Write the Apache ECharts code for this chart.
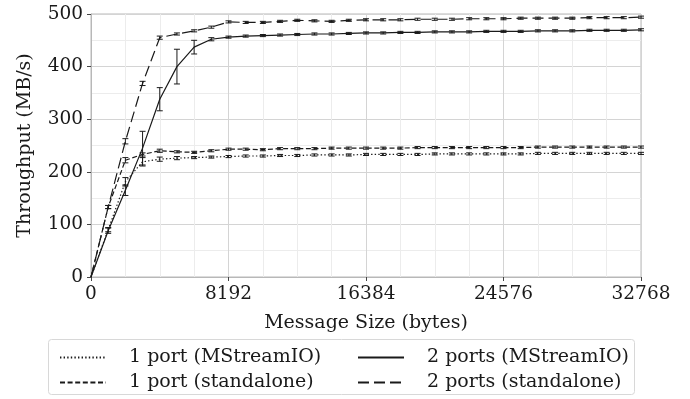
<!DOCTYPE html>
<html>
<head>
<meta charset="utf-8">
<script src="https://cdn.jsdelivr.net/npm/echarts@6/dist/echarts.min.js"></script>
<style>html,body{margin:0;padding:0;background:#fff}#c{width:690px;height:399px}</style>
</head>
<body>
<div id="c"></div>
<script>
// Message sizes (bytes)
const sizes = [0,1024,2048,3072,4096,5120,6144,7168,8192,9216,10240,11264,12288,13312,14336,15360,16384,
  17408,18432,19456,20480,21504,22528,23552,24576,25600,26624,27648,28672,29696,30720,31744,32768];
const xTicks = [0, 8192, 16384, 24576, 32768];
const yTicks = [0, 100, 200, 300, 400, 500];

const seriesNames = ['1 port (MStreamIO)', '2 ports (MStreamIO)', '1 port (standalone)', '2 ports (standalone)'];

// Throughput (MB/s)
const onePortMS = [0,90,181,219,224,226,227,228,229,230,230,231,231,232,232,232,233,
  233,233,233,234,234,234,234,234,234,235,235,235,235,235,235,235];
const twoPortsMS = [0,88,165,245,338,400,437,452,456,458,459,460,461,462,462,463,464,
  464,465,465,466,466,466,467,467,467,468,468,468,469,469,469,470];
const onePortSA = [0,133,222,233,240,238,237,240,243,243,242,244,244,244,245,245,245,
  245,245,246,246,246,246,246,246,246,247,247,247,247,247,247,247];
const twoPortsSA = [0,133,258,368,455,462,468,475,485,484,484,486,488,487,486,488,489,
  489,489,490,490,490,491,491,491,492,492,492,492,493,493,493,494];

// Error (half range, MB/s)
const onePortMSErr = [0,4,8,8,4,3,2,2,2,2,2,2,2,2,2,2,2,2,2,2,2,2,2,2,2,2,2,2,2,2,2,2,2];
const twoPortsMSErr = [0,5,10,32,22,33,13,3,2,2,2,2,2,2,2,2,2,2,2,2,2,2,2,2,2,2,2,2,2,2,2,2,2];
const onePortSAErr = [0,3,5,3,3,2,2,2,2,2,2,2,2,2,2,2,2,2,2,2,2,2,2,2,2,2,2,2,2,2,2,2,2];
const twoPortsSAErr = [0,3,5,4,3,2,2,2,2,2,2,2,2,2,2,2,2,2,2,2,2,2,2,2,2,2,2,2,2,2,2,2,2];

const FONT = 'DejaVu Serif';
const INK = '#1a1a1a';
const values = [onePortMS, twoPortsMS, onePortSA, twoPortsSA];
const errs = [onePortMSErr, twoPortsMSErr, onePortSAErr, twoPortsSAErr];
const dashes = [[1.4, 2.2], 'solid', [5, 2.6], [11, 5]];

const chart = echarts.init(document.getElementById('c'), null, {renderer: 'canvas'});

function renderErr(params, api) {
  const x = api.value(0), y = api.value(1), e = api.value(2);
  if (!e) return null;
  const t = api.coord([x, y + e]), b = api.coord([x, y - e]);
  const w = 3;
  const st = {stroke: INK, lineWidth: 1};
  return {type: 'group', children: [
    {type: 'line', shape: {x1: t[0], y1: t[1], x2: b[0], y2: b[1]}, style: st},
    {type: 'line', shape: {x1: t[0] - w, y1: t[1], x2: t[0] + w, y2: t[1]}, style: st},
    {type: 'line', shape: {x1: b[0] - w, y1: b[1], x2: b[0] + w, y2: b[1]}, style: st}
  ]};
}

const series = [];
seriesNames.forEach((n, i) => {
  series.push({
    name: n, type: 'line', symbol: 'none', showSymbol: false,
    data: sizes.map((s, k) => [s, values[i][k]]),
    lineStyle: {color: INK, width: 1.2, type: dashes[i]},
    itemStyle: {color: INK},
    animation: false, z: 3
  });
});
seriesNames.forEach((n, i) => {
  series.push({
    name: n + ' err', type: 'custom', renderItem: renderErr,
    data: sizes.map((s, k) => [s, values[i][k], errs[i][k]]),
    encode: {x: 0, y: 1}, animation: false, z: 4, silent: true
  });
});

const legendCommon = {
  orient: 'vertical', top: 343, itemWidth: 46, itemHeight: 12, itemGap: 6,
  textStyle: {fontFamily: FONT, fontSize: 19, color: INK, padding: [0, 0, 0, 18]},
  itemStyle: {opacity: 0},
  selectedMode: false
};

chart.setOption({
  animation: false,
  backgroundColor: '#fff',
  grid: {left: 91, right: 49, top: 14, bottom: 122, show: true, borderColor: '#b8b8b8', borderWidth: 1},
  xAxis: {
    type: 'value', min: xTicks[0], max: xTicks[xTicks.length - 1], interval: 8192,
    name: 'Message Size (bytes)', nameLocation: 'middle', nameGap: 37,
    nameTextStyle: {fontFamily: FONT, fontSize: 19, color: INK},
    axisLine: {show: true, lineStyle: {color: '#b8b8b8'}},
    axisTick: {show: true, length: 4, lineStyle: {color: '#444'}},
    axisLabel: {fontFamily: FONT, fontSize: 18.5, color: INK, margin: 8, formatter: v => String(v)},
    splitLine: {show: true, lineStyle: {color: '#d4d4d4', width: 1}},
    minorTick: {show: false, splitNumber: 4},
    minorSplitLine: {show: true, lineStyle: {color: '#ececec', width: 1}}
  },
  yAxis: {
    type: 'value', min: yTicks[0], max: yTicks[yTicks.length - 1], interval: 100,
    name: 'Throughput (MB/s)', nameLocation: 'middle', nameGap: 56,
    nameTextStyle: {fontFamily: FONT, fontSize: 19, color: INK},
    axisLine: {show: true, lineStyle: {color: '#b8b8b8'}},
    axisTick: {show: true, length: 4, lineStyle: {color: '#444'}},
    axisLabel: {fontFamily: FONT, fontSize: 18.5, color: INK, margin: 8, formatter: v => String(v)},
    splitLine: {show: true, lineStyle: {color: '#d4d4d4', width: 1}},
    minorTick: {show: false, splitNumber: 2},
    minorSplitLine: {show: true, lineStyle: {color: '#ececec', width: 1}}
  },
  legend: [
    Object.assign({}, legendCommon, {left: 54, data: [seriesNames[0], seriesNames[2]]}),
    Object.assign({}, legendCommon, {left: 352, data: [seriesNames[1], seriesNames[3]]})
  ],
  graphic: [{
    type: 'rect', left: 48, top: 339, z: 0,
    shape: {width: 586, height: 55, r: 3},
    style: {fill: '#fff', stroke: '#d8d8d8', lineWidth: 1}
  }],
  series: series
});
</script>
</body>
</html>
